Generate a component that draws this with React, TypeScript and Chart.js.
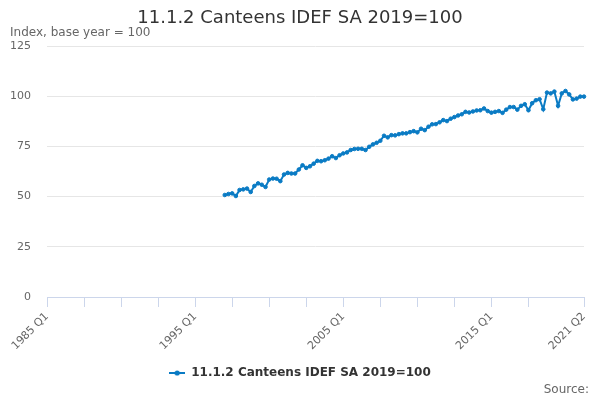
import React, { useEffect, useRef } from "react";
import { Chart, registerables } from "chart.js";

Chart.register(...registerables);

const TITLE = "11.1.2 Canteens IDEF SA 2019=100";
const Y_AXIS_TITLE = "Index, base year = 100";
const SOURCE_TEXT = "Source:";
const SERIES_NAME = "11.1.2 Canteens IDEF SA 2019=100";

const FIRST_YEAR = 1985;
const LAST_YEAR = 2021;
const LAST_QUARTER = 2;
const QUARTER_NAMES = ["Q1", "Q2", "Q3", "Q4"];
const DATA_START = "1997 Q1";
const LABELED_TICKS = ["1985 Q1", "1995 Q1", "2005 Q1", "2015 Q1", "2021 Q2"];
const TICK_MARK_EVERY = 10;
const Y_TICKS = [0, 25, 50, 75, 100, 125];

// 1997 Q1 .. 2021 Q2
const VALUES_1997_2004 = [
  50.8, 51.3, 51.6, 50.3,
  53.3, 53.6, 54.0, 52.3,
  55.3, 56.6, 55.9, 54.8,
  58.5, 59.0, 58.9, 57.7,
  61.0, 61.8, 61.5, 61.5,
  63.5, 65.6, 64.3, 65.1,
  66.4, 67.8, 67.6, 68.1,
  68.9, 70.1, 69.2, 70.6,
];
const VALUES_2005_2012 = [
  71.5, 72.0, 73.2, 73.7,
  73.8, 73.8, 73.2, 74.8,
  76.0, 76.8, 77.8, 80.3,
  79.5, 80.6, 80.5, 81.1,
  81.5, 81.5, 82.1, 82.6,
  82.0, 83.8, 83.1, 84.8,
  86.0, 86.1, 87.0, 88.1,
  87.6, 88.8, 89.6, 90.4,
];
const VALUES_2013_2021 = [
  91.0, 92.2, 91.9, 92.4,
  92.9, 93.0, 93.9, 92.6,
  91.8, 92.2, 92.6, 91.7,
  93.3, 94.6, 94.6, 93.3,
  95.2, 96.0, 93.0, 96.5,
  98.0, 98.5, 93.5, 101.8,
  101.4, 102.3, 95.2, 101.4,
  102.6, 100.9, 98.4, 98.8,
  99.8, 99.8,
];

const LINE_COLOR = "#0a7bc4";

function buildLabels(): string[] {
  const out: string[] = [];
  for (let y = FIRST_YEAR; y <= LAST_YEAR; y++) {
    for (let q = 0; q < 4; q++) {
      if (y === LAST_YEAR && q >= LAST_QUARTER) break;
      out.push(`${y} ${QUARTER_NAMES[q]}`);
    }
  }
  return out;
}

export default function App() {
  const canvasRef = useRef<HTMLCanvasElement | null>(null);

  useEffect(() => {
    const canvas = canvasRef.current;
    if (!canvas) return;
    Chart.defaults.font.family = '"DejaVu Sans", sans-serif';

    const labels = buildLabels();
    const values = [...VALUES_1997_2004, ...VALUES_2005_2012, ...VALUES_2013_2021];
    const startIdx = labels.indexOf(DATA_START);
    const data: (number | null)[] = labels.map((_, i) =>
      i >= startIdx && i - startIdx < values.length ? values[i - startIdx] : null
    );
    const last = labels.length - 1;

    // legend symbol: line with a marker
    const sym = document.createElement("canvas");
    sym.width = 16;
    sym.height = 8;
    const g = sym.getContext("2d");
    if (g) {
      g.strokeStyle = LINE_COLOR;
      g.lineWidth = 2;
      g.beginPath();
      g.moveTo(0, 4);
      g.lineTo(16, 4);
      g.stroke();
      g.fillStyle = LINE_COLOR;
      g.beginPath();
      g.arc(8, 4, 2.6, 0, Math.PI * 2);
      g.fill();
    }

    const sourcePlugin = {
      id: "sourceNote",
      afterDraw(chart: any) {
        const ctx = chart.ctx;
        ctx.save();
        ctx.font = '12px "DejaVu Sans", sans-serif';
        ctx.fillStyle = "#666666";
        ctx.textAlign = "right";
        ctx.textBaseline = "middle";
        ctx.fillText(SOURCE_TEXT, chart.width - 11, chart.height - 10);
        ctx.restore();
      },
    };

    const chart = new Chart(canvas, {
      type: "line",
      data: {
        labels,
        datasets: [
          {
            label: SERIES_NAME,
            data,
            borderColor: LINE_COLOR,
            backgroundColor: LINE_COLOR,
            borderWidth: 2,
            pointRadius: 1.8,
            pointBorderWidth: 1,
            pointBackgroundColor: LINE_COLOR,
            pointBorderColor: LINE_COLOR,
            tension: 0,
          },
        ],
      },
      options: {
        animation: false,
        responsive: false,
        layout: { padding: { left: 10, right: 10, top: 0, bottom: 11 } },
        plugins: {
          title: {
            display: true,
            text: TITLE,
            color: "#333333",
            font: { size: 18, weight: "normal", lineHeight: 1.2 },
            padding: { top: 8, bottom: 0 },
          },
          subtitle: {
            display: true,
            text: Y_AXIS_TITLE,
            align: "start",
            color: "#666666",
            font: { size: 12, lineHeight: 1.2 },
            padding: { top: -4, bottom: 6 },
          },
          legend: {
            display: true,
            position: "bottom",
            labels: {
              usePointStyle: true,
              pointStyle: sym as any,
              pointStyleWidth: 16,
              color: "#333333",
              font: { size: 12, weight: "bold" },
              padding: 10,
            },
          },
          tooltip: { enabled: false },
        },
        scales: {
          x: {
            type: "category",
            offset: false,
            afterFit: (scale: any) => {
              scale.height = 60;
              scale.paddingRight = 16;
            },
            border: { display: true, color: "#ccd6eb", width: 1 },
            grid: {
              display: true,
              drawOnChartArea: false,
              drawTicks: true,
              tickLength: 10,
              color: (ctx: any) =>
                (ctx.index % TICK_MARK_EVERY === 0 && ctx.index + TICK_MARK_EVERY <= last) ||
                ctx.index === last
                  ? "#ccd6eb"
                  : "rgba(0,0,0,0)",
            },
            ticks: {
              autoSkip: false,
              maxRotation: 45,
              minRotation: 45,
              padding: 3,
              color: "#666666",
              font: { size: 11 },
              callback: (_v: any, i: number) =>
                LABELED_TICKS.includes(labels[i]) ? labels[i] : "",
            },
          },
          y: {
            min: Y_TICKS[0],
            max: Y_TICKS[Y_TICKS.length - 1],
            afterFit: (scale: any) => {
              scale.width = 37;
            },
            afterBuildTicks: (scale: any) => {
              scale.ticks = Y_TICKS.map((v) => ({ value: v }));
            },
            border: { display: false },
            grid: {
              drawTicks: false,
              color: (ctx: any) => (ctx.tick && ctx.tick.value === 0 ? "rgba(0,0,0,0)" : "#e6e6e6"),
              lineWidth: 1,
            },
            ticks: {
              padding: 16,
              color: "#666666",
              font: { size: 11 },
            },
          },
        },
      },
      plugins: [sourcePlugin],
    } as any);

    return () => chart.destroy();
  }, []);

  return (
    <div style={{ position: "absolute", left: 0, top: 0, width: 600, height: 400, background: "#fff" }}>
      <canvas ref={canvasRef} width={600} height={400} style={{ display: "block" }} />
    </div>
  );
}
